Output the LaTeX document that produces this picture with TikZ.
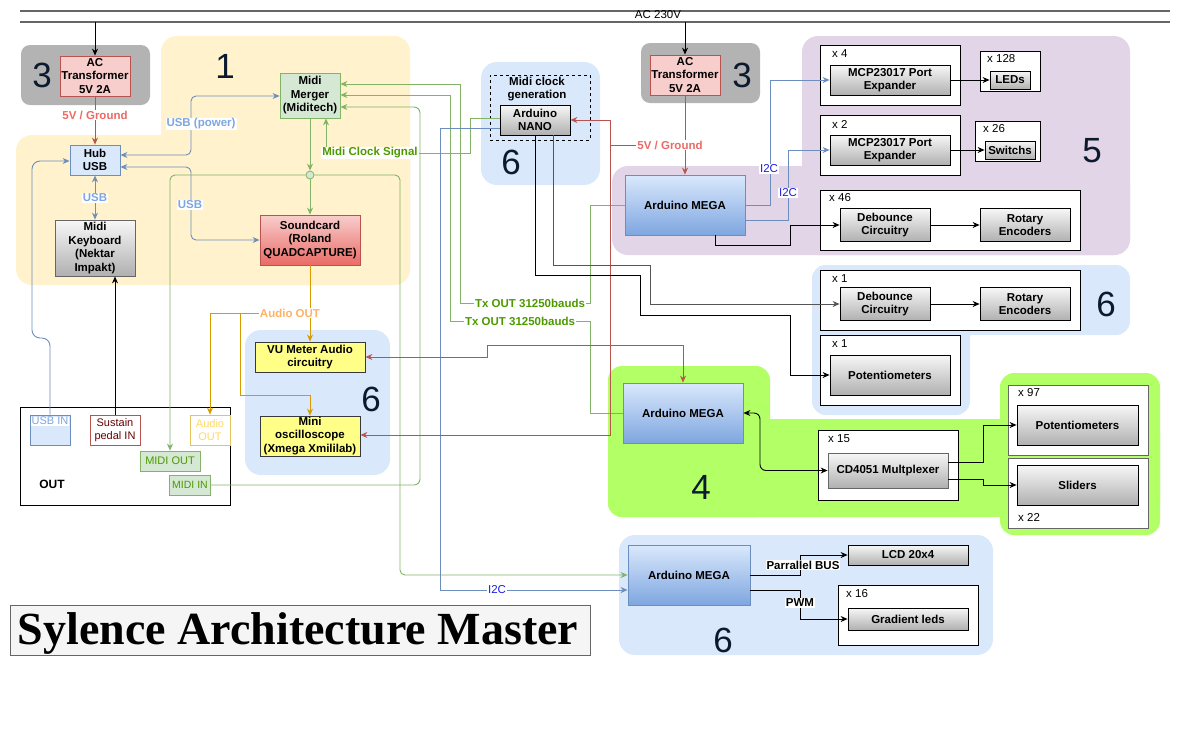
\documentclass[tikz,border=0pt]{standalone}
\usepackage{fontspec}
\setmainfont{Liberation Sans}
\newfontfamily\titlefont{Liberation Serif}
\usetikzlibrary{arrows.meta}
\definecolor{cgrpgray}{HTML}{B3B3B3}
\definecolor{cyel}{HTML}{FFF2CC}
\definecolor{cblu}{HTML}{DAE8FC}
\definecolor{cpur}{HTML}{E1D5E7}
\definecolor{cgrn}{HTML}{B3FF66}
\definecolor{credf}{HTML}{F8CECC}
\definecolor{credb}{HTML}{B85450}
\definecolor{credt}{HTML}{EA6B66}
\definecolor{cblub}{HTML}{6C8EBF}
\definecolor{cblut}{HTML}{7EA6E0}
\definecolor{cgrnf}{HTML}{D5E8D4}
\definecolor{cgrnb}{HTML}{82B366}
\definecolor{cgrnt}{HTML}{4D9900}
\definecolor{cgtop}{HTML}{F7F7F7}
\definecolor{cgbot}{HTML}{B0B0B0}
\definecolor{cgbd}{HTML}{666666}
\definecolor{cyelf}{HTML}{FFFF88}
\definecolor{cyelb}{HTML}{36393D}
\definecolor{corl}{HTML}{D79B00}
\definecolor{cort}{HTML}{FFB366}
\definecolor{caout}{HTML}{FFD966}
\definecolor{caoutb}{HTML}{E6C35C}
\definecolor{ci2c}{HTML}{1F1FE0}
\definecolor{cnum}{HTML}{0C1A2E}
\definecolor{cmaroon}{HTML}{660000}
\definecolor{ctitle}{HTML}{F5F5F5}
\definecolor{cbus}{HTML}{666666}
\definecolor{cdgl}{HTML}{555555}
\begin{document}
\begin{tikzpicture}[x=1pt,y=-1pt,
  every node/.style={inner sep=1pt},
  bx/.style={draw, line width=0.8pt, align=center, font=\bfseries\fontsize{11.5}{13.5}\selectfont},
  gbx/.style={bx, draw=cgbd, top color=cgtop, bottom color=cgbot},
  mbx/.style={bx, draw=cblub, top color=cblu, bottom color=cblut},
  rbx/.style={bx, draw=credb, fill=credf},
  ybx/.style={bx, draw=cyelb, fill=cyelf},
  cnt/.style={draw=black, fill=white, line width=0.8pt},
  lbl/.style={fill=white, inner sep=1pt, font=\bfseries\fontsize{11.5}{13}\selectfont},
  xl/.style={anchor=west, inner sep=0pt, font=\fontsize{11.5}{13}\selectfont},
  big/.style={font=\fontsize{35}{38}\selectfont, text=cnum},
  arr/.style={-{Stealth[length=7pt,width=6pt]}},
  arrb/.style={{Stealth[length=7pt,width=6pt]}-{Stealth[length=7pt,width=6pt]}},
  ln/.style={line width=0.9pt},
  bl/.style={ln, draw=cblub},
  gl/.style={ln, draw=cgrnb},
  rl/.style={ln, draw=credb},
  ol/.style={ln, draw=corl},
  kl/.style={ln, draw=black},
  dl/.style={ln, draw=cdgl}
]
\useasboundingbox (0,0) rectangle (1181,740);
\fill[white] (0,0) rectangle (1181,740);

% ---------- group backgrounds ----------
\fill[cgrpgray, rounded corners=9] (21,45) rectangle (150,105);
\fill[cyel, rounded corners=16] (161,36) rectangle (410,285);
\fill[cyel, rounded corners=16] (16,135) rectangle (410,285);
\fill[cblu, rounded corners=16] (481,62) rectangle (600,185);
\fill[cgrpgray, rounded corners=9] (641,43) rectangle (760,103);
\fill[cpur, rounded corners=16] (802,36) rectangle (1130,255);
\fill[cpur, rounded corners=16] (612,166) rectangle (1130,255);
\fill[cblu, rounded corners=14] (812,265) rectangle (1130,335);
\fill[cblu, rounded corners=14] (812,265) rectangle (970,415);
\fill[cgrn, rounded corners=14] (608,366) rectangle (770,517);
\fill[cgrn, rounded corners=14] (608,419) rectangle (1160,517);
\fill[cgrn, rounded corners=14] (1000,373) rectangle (1160,535);
\fill[cblu, rounded corners=16] (245,330) rectangle (390,475);
\fill[cblu, rounded corners=16] (619,535) rectangle (993,655);

% ---------- mains bus ----------
\coordinate (busA1) at (20,11); \coordinate (busA2) at (1170,11);
\coordinate (busB1) at (20,22); \coordinate (busB2) at (1170,22);
\draw[line width=1.4pt, cbus] (busA1) -- (busA2);
\draw[line width=1.4pt, cbus] (busB1) -- (busB2);
\node[font=\fontsize{11.5}{13}\selectfont] (ac230) at (658,15) {AC 230V};

% ---------- big numbers ----------
\node[big] (g3a) at (42,75) {3};
\node[big] (g1) at (225,66) {1};
\node[big] (g6a) at (511,162) {6};
\node[big] (g3b) at (742,75) {3};
\node[big] (g5) at (1092,151) {5};
\node[big] (g6b) at (1106,304) {6};
\node[big] (g4) at (701,487) {4};
\node[big] (g6c) at (371,399) {6};
\node[big] (g6d) at (723,640) {6};

% ---------- left cluster ----------
\node[rbx, minimum width=70, minimum height=40] (acL) at (95,76) {AC\\Transformer\\5V 2A};
\node[bx, draw=cblub, fill=cblu, minimum width=50, minimum height=30] (hub) at (95,160) {Hub\\USB};
\node[gbx, minimum width=80, minimum height=56] (kbd) at (95,248) {Midi\\Keyboard\\(Nektar\\Impakt)};
\node[bx, draw=cgrnb, fill=cgrnf, minimum width=60, minimum height=45] (merger) at (310,95.5) {Midi\\Merger\\(Miditech)};
\node[bx, draw=credb, top color=credf, bottom color=credt, minimum width=100, minimum height=50] (sound) at (310,240) {Soundcard\\(Roland\\QUADCAPTURE)};
\node[circle, draw=cgrnb, fill=cgrnf, line width=0.8pt, minimum size=8, inner sep=0pt] (junc) at (310,175) {};

% ---------- VU / scope ----------
\node[ybx, minimum width=110, minimum height=30] (vu) at (310,357) {VU Meter Audio\\circuitry};
\node[ybx, minimum width=100, minimum height=40] (osc) at (310,436) {Mini\\oscilloscope\\(Xmega Xmililab)};

% ---------- OUT panel ----------
\node[cnt, minimum width=210, minimum height=98] (outbox) at (125,456) {};
\node[font=\bfseries\fontsize{12}{14}\selectfont] (outlbl) at (52,484) {OUT};
\node[draw=cblub, fill=cblu, line width=0.8pt, minimum width=40, minimum height=30] (usbin) at (50,430) {};
\node[anchor=north, fill=white, inner sep=0.5pt, text=cblut, font=\fontsize{11}{13}\selectfont] (usbint) at ([yshift=-2pt]usbin.north) {USB IN};
\node[draw=credb, fill=white, line width=0.8pt, minimum width=50, minimum height=30, align=center, text=cmaroon, font=\fontsize{11}{12.5}\selectfont] (sus) at (115,430) {Sustain\\pedal IN};
\node[draw=caoutb, fill=white, line width=0.8pt, minimum width=40, minimum height=30, align=center, text=caout, font=\fontsize{11}{12.5}\selectfont] (aout) at (210,430) {Audio\\OUT};
\node[draw=cgrnb, fill=cgrnf, line width=0.8pt, minimum width=60, minimum height=20, text=cgrnt, font=\fontsize{11}{13}\selectfont] (midiout) at (170,461) {MIDI OUT};
\node[draw=cgrnb, fill=cgrnf, line width=0.8pt, minimum width=41, minimum height=20, inner sep=0pt, text=cgrnt, font=\fontsize{10.5}{13}\selectfont] (midiin) at (190,485) {MIDI IN};

% ---------- NANO ----------
\node[draw=black, dashed, line width=0.8pt, minimum width=100, minimum height=65] (mcg) at (540,107.5) {};
\node[align=center, font=\bfseries\fontsize{11.5}{13.5}\selectfont] (mcgt) at (537,89) {Midi clock\\generation};
\node[gbx, draw=black, minimum width=70, minimum height=30] (nano) at (535,120) {Arduino\\NANO};

% ---------- right transformer and MEGA 1 ----------
\node[rbx, minimum width=70, minimum height=40] (acR) at (685,75) {AC\\Transformer\\5V 2A};
\node[mbx, minimum width=120, minimum height=60] (mega1) at (685,205) {Arduino MEGA};

\node[cnt, minimum width=140, minimum height=60] (c4) at (890,75) {};
\node[xl] (c4l) at (832,54) {x 4};
\node[gbx, draw=black, minimum width=120, minimum height=30] (mcp1) at (890,80) {MCP23017 Port\\Expander};
\node[cnt, minimum width=60, minimum height=40] (c128) at (1010,71) {};
\node[xl] (c128l) at (987,59) {x 128};
\node[gbx, draw=black, minimum width=40, minimum height=18] (leds) at (1010,80) {LEDs};

\node[cnt, minimum width=140, minimum height=60] (c2) at (890,145) {};
\node[xl] (c2l) at (832,124) {x 2};
\node[gbx, draw=black, minimum width=120, minimum height=30] (mcp2) at (890,150) {MCP23017 Port\\Expander};
\node[cnt, minimum width=65, minimum height=40] (c26) at (1007.5,141) {};
\node[xl] (c26l) at (983,129) {x 26};
\node[gbx, draw=black, minimum width=50, minimum height=18] (sw) at (1010,150) {Switchs};

\node[cnt, minimum width=260, minimum height=60] (c46) at (950,220) {};
\node[xl] (c46l) at (829,198) {x 46};
\node[gbx, draw=black, minimum width=90, minimum height=33] (deb1) at (885,225) {Debounce\\Circuitry};
\node[gbx, draw=black, minimum width=90, minimum height=33] (rot1) at (1025,225) {Rotary\\Encoders};

% ---------- group 6 right ----------
\node[cnt, minimum width=260, minimum height=60] (c1a) at (950,300) {};
\node[xl] (c1al) at (832,279) {x 1};
\node[gbx, draw=black, minimum width=90, minimum height=33] (deb2) at (885,304) {Debounce\\Circuitry};
\node[gbx, draw=black, minimum width=90, minimum height=33] (rot2) at (1025,304) {Rotary\\Encoders};
\node[cnt, minimum width=140, minimum height=70] (c1b) at (890,370) {};
\node[xl] (c1bl) at (832,344) {x 1};
\node[gbx, draw=black, minimum width=120, minimum height=40] (pot1) at (890,375) {Potentiometers};

% ---------- group 4 ----------
\node[mbx, minimum width=120, minimum height=60] (mega2) at (683,413) {Arduino MEGA};
\node[cnt, minimum width=140, minimum height=70] (c15) at (888,465) {};
\node[xl] (c15l) at (828,439) {x 15};
\node[gbx, minimum width=120, minimum height=35] (mux) at (888,470.5) {CD4051 Multplexer};
\node[cnt, draw=cgbd, minimum width=140, minimum height=70] (c97) at (1078,420) {};
\node[xl] (c97l) at (1018,393) {x 97};
\node[gbx, draw=black, minimum width=121, minimum height=40] (pot2) at (1077.5,425) {Potentiometers};
\node[cnt, draw=cgbd, minimum width=140, minimum height=70] (c22) at (1078,493) {};
\node[xl] (c22l) at (1018,517) {x 22};
\node[gbx, draw=black, minimum width=121, minimum height=40] (sliders) at (1077.5,485) {Sliders};

% ---------- bottom group 6 ----------
\node[mbx, minimum width=122, minimum height=60] (mega3) at (689,575) {Arduino MEGA};
\node[gbx, draw=black, minimum width=120, minimum height=20] (lcd) at (908,555) {LCD 20x4};
\node[cnt, minimum width=140, minimum height=60] (c16) at (908,615) {};
\node[xl] (c16l) at (846,594) {x 16};
\node[gbx, draw=black, minimum width=120, minimum height=22] (grad) at (908,619) {Gradient leds};

% ---------- title ----------
\node[draw=cgbd, fill=ctitle, line width=0.8pt, minimum width=580, minimum height=50] (title) at (300,630) {};
\node[anchor=base, inner sep=0pt, font=\titlefont\bfseries\fontsize{46}{50}\selectfont] (titletext) at (298,644) {Sylence Architecture Master};

% ================= connectors =================
\draw[kl, arr] (acL.north |- busB1) -- (acL.north);
\draw[kl, arr] (acR.north |- busB1) -- (acR.north);

\draw[rl, arr] (acL.south) -- (hub.north);
\draw[bl, arrb, rounded corners=5] (hub.east |- 0,155) -- (191,155) -- (191,96) -- (merger.west |- 0,96);
\draw[bl, arrb, rounded corners=5] (hub.east |- 0,167) -- (191,167) -- (191,240) -- (sound.west |- 0,240);
\draw[bl, arrb] (hub.south) -- (kbd.north);
\draw[bl, arr, rounded corners=8] (usbin.north) -- (50,338) -- (32,338) -- (32,161) -- (hub.west |- 0,161);
\draw[kl, arr] (sus.north) -- (kbd.south -| sus.north);

\draw[gl, arr] (merger.south) -- (junc.north);
\draw[gl, arr] (junc.south) -- (sound.north);
\draw[gl, arr, rounded corners=5] (junc.west) -- (170,175) -- (midiout.north);
\draw[gl, arr, rounded corners=5] (junc.east) -- (400,175) -- (400,575) -- (mega3.west |- 0,575);
\draw[gl, arr, rounded corners=6] (midiin.east) -- (420,485) -- (420,107) -- (merger.east |- 0,107);
\draw[gl, arr] (mega1.west) -- (590,205) -- (590,303) -- (460,303) -- (460,84) -- (merger.east |- 0,84);
\draw[gl, arr] (mega2.west) -- (590,413) -- (590,321) -- (450,321) -- (450,95) -- (merger.east |- 0,95);
\draw[gl, arr] (nano.west |- 0,118) -- (470,118) -- (470,153) -- (326,153) -- (merger.south -| 326,0);

\draw[bl, arr] (nano.west |- 0,128) -- (440,128) -- (440,590) -- (mega3.west |- 0,590);

\draw[rl, arr] (acR.south) -- (mega1.north);
\draw[rl, arr] (685,145) -- (610,145) -- (610,120) -- (nano.east |- 0,120);
\draw[rl, arr] (610,145) -- (610,435) -- (osc.east |- 0,435);
\draw[rl, arrb] (vu.east) -- (487,357) -- (487,345) -- (683,345) -- (mega2.north);

\draw[ol, arr] (sound.south) -- (vu.north);
\draw[ol, arr] (310,313) -- (210,313) -- (aout.north);
\draw[ol, arr] (240,313) -- (240,395) -- (310,395) -- (osc.north);

\draw[bl, arr] (mega1.east |- 0,205) -- (770,205) -- (770,80) -- (mcp1.west);
\draw[bl, arr] (mega1.east |- 0,220) -- (788,220) -- (788,150) -- (mcp2.west);
\draw[kl, arr] (mega1.south -| 715,0) -- (715,245) -- (790,245) -- (790,225) -- (deb1.west);
\draw[kl, arr] (mcp1.east) -- (leds.west);
\draw[kl, arr] (mcp2.east) -- (sw.west);
\draw[kl, arr] (deb1.east) -- (rot1.west);
\draw[kl, arr] (deb2.east) -- (rot2.west);

\draw[dl, arr] (nano.south -| 553,0) -- (553,265) -- (650,265) -- (650,304) -- (deb2.west);
\draw[kl, arr] (nano.south -| 535,0) -- (535,275) -- (640,275) -- (640,315) -- (790,315) -- (790,375) -- (pot1.west);

\draw[kl, arrb, rounded corners=6] (mux.west) -- (760,470.5) -- (760,413) -- (mega2.east);
\draw[kl, arr] (mux.east |- 0,462) -- (983,462) -- (983,425) -- (pot2.west);
\draw[kl, arr] (mux.east |- 0,479) -- (983,479) -- (983,485) -- (sliders.west);

\draw[kl, arr] (mega3.east |- 0,575) -- (800,575) -- (800,555) -- (lcd.west);
\draw[kl, arr] (mega3.east |- 0,590) -- (800,590) -- (800,619) -- (grad.west);

% ================= connector labels =================
\node[lbl, text=credt] (lb5va) at (95,115) {5V / Ground};
\node[lbl, text=cblut] (lbusbp) at (201,124) {USB (power)};
\node[lbl, text=cblut] (lbusb1) at (190,205) {USB};
\node[lbl, text=cblut] (lbusb2) at (95,198) {USB};
\node[lbl, text=cgrnt] (lbclk) at (370,153) {Midi Clock Signal};
\node[lbl, text=cgrnt] (lbtx1) at (530,303) {Tx OUT 31250bauds};
\node[lbl, text=cgrnt] (lbtx2) at (520,321) {Tx OUT 31250bauds};
\node[lbl, text=cort] (lbaud) at (290,313) {Audio OUT};
\node[lbl, text=credt] (lb5vb) at (670,145) {5V / Ground};
\node[fill=white, inner sep=1pt, text=ci2c, font=\fontsize{11.5}{13}\selectfont] (lbi2a) at (769,169) {I2C};
\node[fill=white, inner sep=1pt, text=ci2c, font=\fontsize{11.5}{13}\selectfont] (lbi2b) at (788,193) {I2C};
\node[fill=white, inner sep=1pt, text=ci2c, font=\fontsize{11.5}{13}\selectfont] (lbi2c) at (497,590) {I2C};
\node[lbl] (lbpar) at (803,565) {Parrallel BUS};
\node[lbl] (lbpwm) at (800,603) {PWM};
\end{tikzpicture}
\end{document}
